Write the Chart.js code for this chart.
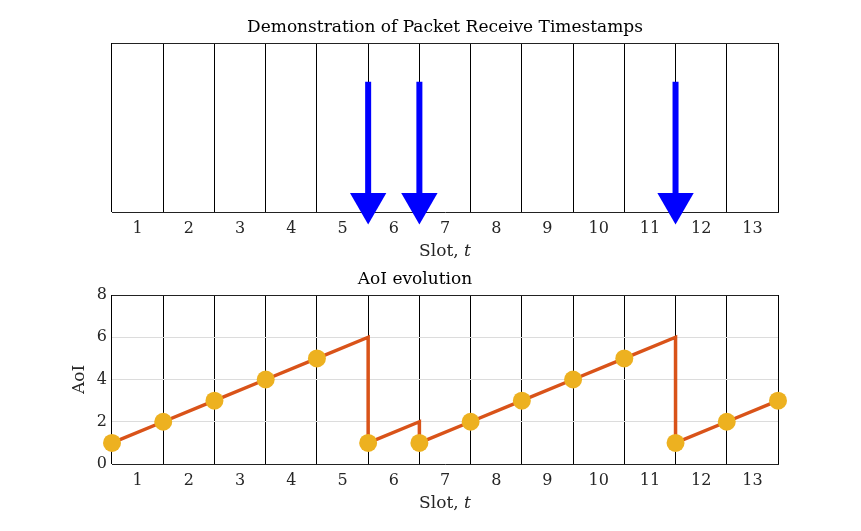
<!DOCTYPE html>
<html>
<head>
<meta charset="utf-8">
<script src="https://cdn.jsdelivr.net/npm/chart.js@4.4.0/dist/chart.umd.min.js"></script>
<style>
html, body { margin: 0; padding: 0; background: #fff; }
#wrap { position: relative; width: 861px; height: 531px; }
#wrap canvas { position: absolute; left: 0; top: 0; }
</style>
</head>
<body>
<div id="wrap">
  <canvas id="stamps" width="861" height="531"></canvas>
  <canvas id="aoi" width="861" height="531"></canvas>
</div>
<script>
// slots shown on both x axes
var slotTicks = [1, 2, 3, 4, 5, 6, 7, 8, 9, 10, 11, 12, 13];

// packet receive timestamps (top panel), arrow from arrowTop down to arrowHead
var arrowSlots = [5.5, 6.5, 11.5];
var arrowTop = 0.77;
var arrowHead = 0.05;

// AoI sawtooth (bottom panel)
var aoiTimes  = [0.5, 1.5, 2.5, 3.5, 4.5, 5.5, 5.5, 6.5, 6.5, 7.5, 8.5, 9.5, 10.5, 11.5, 11.5, 12.5, 13.5];
var aoiValues = [1,   2,   3,   4,   5,   6,   1,   2,   1,   2,   3,   4,   5,    6,    1,    2,    3];

// AoI at the start of each slot (markers)
var sampleTimes  = [0.5, 1.5, 2.5, 3.5, 4.5, 5.5, 6.5, 7.5, 8.5, 9.5, 10.5, 11.5, 12.5, 13.5];
var sampleValues = [1,   2,   3,   4,   5,   1,   1,   2,   3,   4,   5,    1,    2,    3];

var aoiTicks = [0, 2, 4, 6, 8];

var FONT = 'DejaVu Serif';
var TXT = '#262626';

function pts(xs, ys) {
  return xs.map(function(x, i) { return {x: x, y: ys[i]}; });
}

// x axis title with italic t
var slotLabel = {
  id: 'slotLabel',
  afterDraw: function(chart) {
    var s = chart.scales.x, ctx = chart.ctx;
    var a = 'Slot, ', b = 't';
    ctx.save();
    ctx.fillStyle = TXT;
    ctx.textBaseline = 'middle';
    ctx.textAlign = 'left';
    ctx.font = '17px "' + FONT + '"';
    var wa = ctx.measureText(a).width;
    ctx.font = 'italic 17px "' + FONT + '"';
    var wb = ctx.measureText(b).width;
    var x0 = (s.left + s.right) / 2 - (wa + wb) / 2;
    var y = s.bottom - 20;
    ctx.font = '17px "' + FONT + '"';
    ctx.fillText(a, x0, y);
    ctx.font = 'italic 17px "' + FONT + '"';
    ctx.fillText(b, x0 + wa, y);
    ctx.restore();
  }
};

function slotAxis() {
  return {
    type: 'linear',
    min: 0.5,
    max: 13.5,
    afterBuildTicks: function(s) { s.ticks = slotTicks.map(function(v) { return {value: v}; }); },
    afterFit: function(s) { s.height = 60; },
    ticks: { autoSkip: false, color: TXT, font: {family: FONT, size: 16}, padding: 7 },
    grid: { offset: true, color: '#000', lineWidth: 1, drawTicks: false },
    border: { display: true, color: '#222', width: 1 }
  };
}

// top panel
var stampSets = arrowSlots.map(function(x) {
  return {
    data: [{x: x, y: arrowTop}, {x: x, y: arrowHead}],
    borderColor: '#0000ff',
    borderWidth: 6,
    borderCapStyle: 'butt',
    pointRadius: 0,
    clip: false,
    order: 2
  };
});
stampSets.push({
  data: arrowSlots.map(function(x) { return {x: x, y: arrowHead}; }),
  showLine: false,
  pointStyle: 'triangle',
  rotation: 180,
  pointRadius: 21,
  pointHoverRadius: 21,
  pointBackgroundColor: '#0000ff',
  pointBorderColor: '#0000ff',
  pointBorderWidth: 0,
  clip: false,
  order: 1
});

new Chart(document.getElementById('stamps'), {
  type: 'line',
  data: { datasets: stampSets },
  options: {
    responsive: false,
    animation: false,
    layout: { padding: {left: 112, right: 83, top: 0, bottom: 259} },
    plugins: {
      legend: { display: false },
      tooltip: { enabled: false },
      title: {
        display: true,
        text: 'Demonstration of Packet Receive Timestamps',
        color: '#000',
        font: {family: FONT, size: 17, weight: 'normal'},
        padding: {top: 17.8, bottom: 4.8}
      }
    },
    scales: {
      x: slotAxis(),
      y: {
        min: 0,
        max: 1,
        afterFit: function(s) { s.width = 0; },
        ticks: { display: false },
        grid: {
          drawTicks: false,
          color: function(c) { return c.tick && c.tick.value === 1 ? '#222' : 'rgba(0,0,0,0)'; }
        },
        border: { display: false }
      }
    }
  },
  plugins: [slotLabel]
});

// bottom panel
new Chart(document.getElementById('aoi'), {
  type: 'line',
  data: {
    datasets: [
      {
        data: pts(sampleTimes, sampleValues),
        showLine: false,
        pointRadius: 9,
        pointHoverRadius: 9,
        pointBackgroundColor: '#EDB120',
        pointBorderColor: '#EDB120',
        pointBorderWidth: 0,
        clip: false,
        order: 1
      },
      {
        data: pts(aoiTimes, aoiValues),
        borderColor: '#D95319',
        borderWidth: 3.5,
        pointRadius: 0,
        tension: 0,
        clip: false,
        order: 2
      }
    ]
  },
  options: {
    responsive: false,
    animation: false,
    layout: { padding: {left: 52, right: 83, top: 261, bottom: 7} },
    plugins: {
      legend: { display: false },
      tooltip: { enabled: false },
      title: {
        display: true,
        text: 'AoI evolution',
        color: '#000',
        font: {family: FONT, size: 17, weight: 'normal'},
        padding: {top: 8.8, bottom: 4.8}
      }
    },
    scales: {
      x: slotAxis(),
      y: {
        min: 0,
        max: 8,
        afterBuildTicks: function(s) { s.ticks = aoiTicks.map(function(v) { return {value: v}; }); },
        afterFit: function(s) { s.width = 60; },
        ticks: { color: TXT, font: {family: FONT, size: 16}, padding: 5 },
        grid: {
          drawTicks: false,
          color: function(c) { return c.tick && c.tick.value === 8 ? '#222' : '#dcdcdc'; }
        },
        border: { display: false },
        title: {
          display: true,
          text: 'AoI',
          color: TXT,
          font: {family: FONT, size: 17},
          padding: {top: 17, bottom: 0}
        }
      }
    }
  },
  plugins: [slotLabel]
});
</script>
</body>
</html>
